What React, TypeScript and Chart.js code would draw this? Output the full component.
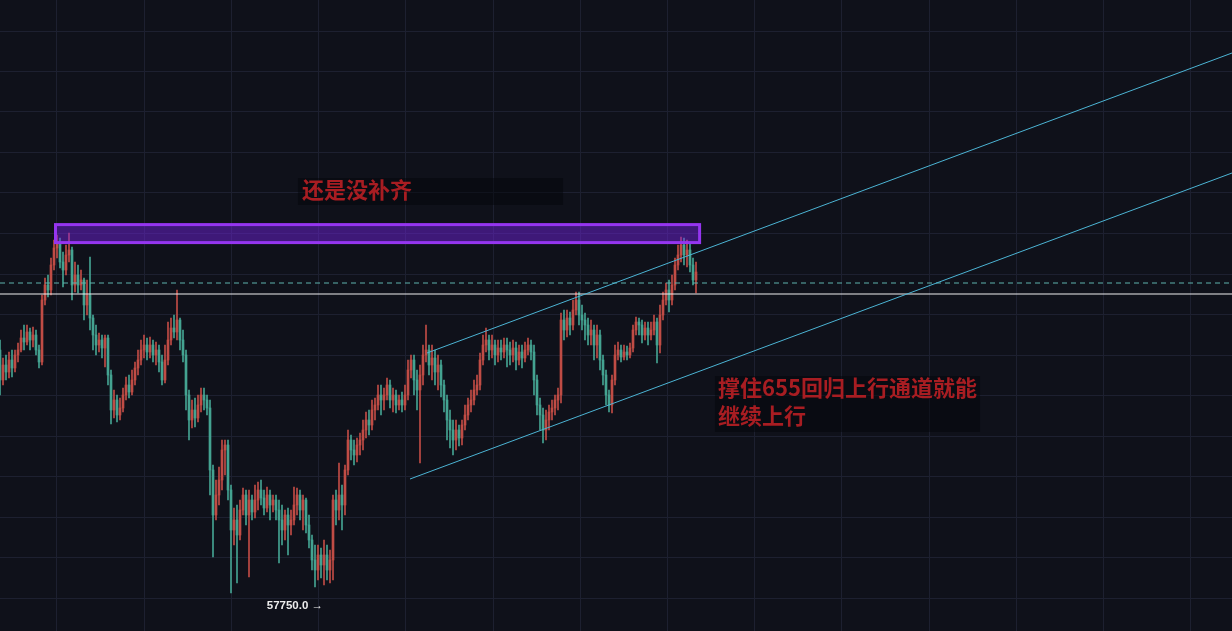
import React, { useEffect, useRef } from "react";
import { Chart, registerables } from "chart.js";

Chart.register(...registerables);

// ---- Candle data (index 0..232) ----
const opens = [
  63625, 62875, 63250, 63075, 63375, 63175, 63500, 63625, 63925, 63825,
  64075, 63875, 64000, 63625, 63325, 64875, 65250, 65125, 65750, 66175,
  66300, 65825, 65625, 66000, 66125, 65250, 65500, 65250, 65375, 64750,
  65000, 64425, 64000, 63750, 63875, 63675, 63925, 63000, 62125, 62375,
  62000, 62175, 62500, 62750, 62575, 62875, 63175, 63375, 63625, 63750,
  63575, 63750, 63500, 63625, 63325, 62875, 63375, 63875, 64175, 64075,
  64375, 63875, 63500, 62500, 61875, 62125, 61925, 62250, 62500, 62375,
  62175, 60625, 59500, 60000, 60375, 61125, 61250, 60125, 59125, 59375,
  59000, 59625, 60000, 59500, 59875, 59575, 59875, 60125, 59925, 59675,
  60000, 59750, 59875, 59625, 59375, 59125, 59500, 59250, 59375, 59750,
  60000, 59625, 59875, 59250, 58875, 58375, 58125, 58500, 58250, 58500,
  58125, 58375, 59875, 59625, 60000, 59750, 60625, 61375, 61125, 61000,
  61250, 61375, 61625, 61875, 61750, 62125, 62250, 62500, 62375, 62500,
  62750, 62375, 62500, 62250, 62375, 62250, 62500, 63125, 63375, 62875,
  62625, 63000, 63500, 63625, 63250, 63425, 63075, 63250, 62750, 62375,
  61875, 61625, 61375, 61625, 61425, 61750, 62000, 62250, 62375, 62625,
  62750, 63375, 63750, 63875, 63625, 63750, 63500, 63675, 63575, 63750,
  63625, 63500, 63675, 63375, 63575, 63425, 63625, 63750, 63575, 62875,
  62250, 62000, 61625, 61875, 62075, 62175, 62375, 62500, 64375, 64125,
  64425, 64250, 64625, 64875, 64500, 64375, 64250, 64000, 64125, 63750,
  64000, 63375, 63000, 62500, 62250, 62875, 63500, 63625, 63450, 63575,
  63500, 63675, 64125, 64325, 64250, 64000, 64175, 64000, 64125, 64325,
  63750, 64500, 64875, 65125, 64875, 65250, 65750, 66000, 66250, 66000,
  66125, 65750, 65375,
];

const highs = [
  63875, 63425, 63500, 63575, 63625, 63625, 63800, 64125, 64250, 64250,
  64175, 64200, 64125, 63750, 65000, 65425, 65500, 65925, 66375, 66500,
  66425, 66075, 66250, 66550, 66200, 65825, 65750, 65625, 65425, 65375,
  65950, 64500, 64250, 64050, 64000, 64000, 64000, 63125, 62625, 62500,
  62425, 62675, 62950, 63000, 63125, 63325, 63625, 63875, 64000, 63925,
  63950, 63875, 63825, 63750, 63500, 63750, 64325, 64425, 64500, 65125,
  64425, 64125, 63625, 62625, 62375, 62425, 62500, 62675, 62675, 62500,
  62375, 60750, 60375, 60700, 61375, 61375, 61375, 60250, 59675, 59750,
  59875, 60175, 60125, 60125, 60000, 60250, 60325, 60375, 60125, 60200,
  60125, 60000, 60000, 59875, 59750, 59625, 59675, 59625, 60200, 60175,
  60125, 60000, 59925, 59500, 59000, 58750, 58750, 58675, 58875, 58750,
  58625, 60000, 60125, 60800, 60250, 60750, 61625, 61500, 61375, 61425,
  61550, 61875, 62075, 62125, 62375, 62425, 62750, 62750, 62675, 62925,
  62875, 62675, 62625, 62500, 62575, 62750, 63375, 63500, 63500, 63125,
  63250, 63750, 64250, 63750, 63750, 63625, 63500, 63375, 62875, 62500,
  62125, 61875, 61875, 61750, 61875, 62250, 62425, 62625, 62875, 63000,
  63550, 64000, 64175, 64000, 64000, 63875, 63875, 63875, 63925, 63925,
  63825, 63875, 63825, 63750, 63750, 63825, 63925, 63875, 63750, 63000,
  62425, 62175, 62125, 62250, 62375, 62500, 62675, 64550, 64625, 64625,
  64575, 64875, 65075, 65075, 64750, 64550, 64425, 64375, 64250, 64250,
  64125, 63500, 63125, 62625, 63000, 63750, 63825, 63750, 63750, 63725,
  63800, 64250, 64450, 64425, 64375, 64325, 64325, 64325, 64500, 64425,
  64750, 65075, 65300, 65375, 65500, 65925, 66250, 66450, 66425, 66375,
  66325, 65925, 65825,
];

const lows = [
  62500, 62750, 62875, 62925, 62950, 63075, 63325, 63575, 63625, 63750,
  63625, 63700, 63500, 63175, 63250, 64750, 64950, 65000, 65625, 65925,
  65675, 65200, 65500, 65825, 64875, 65075, 65050, 65125, 64375, 64500,
  64125, 63625, 63500, 63575, 63425, 63200, 62750, 61775, 61925, 61825,
  61875, 62075, 62375, 62425, 62500, 62750, 63000, 63250, 63425, 63375,
  63425, 63325, 63250, 63075, 62750, 62800, 63250, 63750, 63925, 63875,
  63625, 63325, 62125, 61375, 61675, 61700, 61825, 62075, 62125, 62000,
  60000, 58450, 59375, 59750, 60125, 60500, 59875, 57550, 58750, 57800,
  58875, 59500, 59250, 57950, 59375, 59425, 59625, 59750, 59500, 59575,
  59375, 59575, 59375, 58300, 58750, 58875, 58500, 59000, 59250, 59500,
  59375, 59125, 59050, 58675, 58125, 57700, 57875, 57925, 57750, 57875,
  57800, 57875, 59250, 59375, 59125, 59500, 60500, 60875, 60750, 60825,
  61000, 61125, 61425, 61500, 61625, 61875, 62125, 62000, 62125, 62375,
  62175, 62075, 62050, 62125, 62075, 62125, 62375, 62925, 62500, 62125,
  60800, 62750, 63325, 63000, 62875, 62750, 62625, 62450, 62075, 61375,
  61175, 61000, 61125, 61225, 61250, 61625, 61875, 62075, 62250, 62500,
  62625, 63250, 63575, 63375, 63425, 63250, 63325, 63375, 63425, 63200,
  63250, 63325, 63125, 63250, 63175, 63325, 63500, 63375, 62500, 62000,
  61625, 61300, 61375, 61625, 61875, 62000, 62125, 62300, 63875, 63950,
  64000, 64125, 64500, 64250, 64125, 63875, 63750, 63750, 63375, 63425,
  63125, 62750, 62250, 62075, 62050, 62750, 63375, 63325, 63375, 63375,
  63425, 63575, 64000, 64000, 63800, 63875, 63750, 63875, 64000, 63300,
  63550, 64375, 64750, 64575, 64750, 65125, 65625, 65825, 65750, 65700,
  65575, 65250, 65050,
];

const closes = [
  62875, 63250, 63075, 63375, 63175, 63500, 63625, 63925, 63825, 64075,
  63875, 64000, 63625, 63325, 64875, 65250, 65125, 65750, 66175, 66300,
  65825, 65625, 66000, 66125, 65250, 65500, 65250, 65375, 64750, 65000,
  64425, 64000, 63750, 63875, 63675, 63925, 63000, 62125, 62375, 62000,
  62175, 62500, 62750, 62575, 62875, 63175, 63375, 63625, 63750, 63575,
  63750, 63500, 63625, 63325, 62875, 63375, 63875, 64175, 64075, 64375,
  63875, 63500, 62500, 61875, 62125, 61925, 62250, 62500, 62375, 62175,
  60625, 59500, 60000, 60375, 61125, 61250, 60125, 59125, 59375, 59000,
  59625, 60000, 59500, 59875, 59575, 59875, 60125, 59925, 59675, 60000,
  59750, 59875, 59625, 59375, 59125, 59500, 59250, 59375, 59750, 60000,
  59625, 59875, 59250, 58875, 58375, 58125, 58500, 58250, 58500, 58125,
  58375, 59875, 59625, 60000, 59750, 60625, 61375, 61125, 61000, 61250,
  61375, 61625, 61875, 61750, 62125, 62250, 62500, 62375, 62500, 62750,
  62375, 62500, 62250, 62375, 62250, 62500, 63125, 63375, 62875, 62625,
  63000, 63500, 63625, 63250, 63425, 63075, 63250, 62750, 62375, 61875,
  61625, 61375, 61625, 61425, 61750, 62000, 62250, 62375, 62625, 62750,
  63375, 63750, 63875, 63625, 63750, 63500, 63675, 63575, 63750, 63625,
  63500, 63675, 63375, 63575, 63425, 63625, 63750, 63575, 62875, 62250,
  62000, 61625, 61875, 62075, 62175, 62375, 62500, 64375, 64125, 64425,
  64250, 64625, 64875, 64500, 64375, 64250, 64000, 64125, 63750, 64000,
  63375, 63000, 62500, 62250, 62875, 63500, 63625, 63450, 63575, 63500,
  63675, 64125, 64325, 64250, 64000, 64175, 64000, 64125, 64325, 63750,
  64500, 64875, 65125, 64875, 65250, 65750, 66000, 66250, 66000, 66125,
  65750, 65375, 65575,
];

// ---- Drawings (data coordinates: x = candle index, y = price) ----
const upperChannel = [
  { x: 142.33, y: 63550 },
  { x: 410.67, y: 71050 },
];
const lowerChannel = [
  { x: 136.67, y: 60400 },
  { x: 410.67, y: 68050 },
];
const lastPriceLevel = 65025;
const dashedLevel = 65300;
const resistanceBox = { left: 18.5, right: 233.2, top: 66760, bottom: 66310 };

const note1Lines = ["还是没补齐"];
const note1 = { x: 100.67, y: 67625, boxLeft: 99.33, boxRight: 187.67, boxTop: 67925, boxBottom: 67250 };
const note2Lines = ["撑住655回归上行通道就能", "继续上行"];
const note2 = { x: 239.33, y: 62675, boxLeft: 238.33, boxRight: 326.67, boxTop: 62975, boxBottom: 61575 };

const lowLabel = "57750.0 →";
const lowIndex = 108;
const lowPrice = 57750;

const X_MIN = 0;
const X_MAX = 410.667;
const Y_MIN = 56600;
const Y_MAX = 72375;

const BG = "#0f111a";
const GRID = "#1d2030";
const UP = "#c04c45";
const DOWN = "#44a391";

export default function App() {
  const canvasRef = useRef<HTMLCanvasElement | null>(null);

  useEffect(() => {
    document.body.style.margin = "0";
    document.body.style.background = BG;
    const canvas = canvasRef.current;
    if (!canvas) return;

    const idx = closes.map((_, i) => i);
    const colors = idx.map((i) => (closes[i] >= opens[i] ? UP : DOWN));
    const wickData = idx.map((i) => ({ x: i, y: [lows[i], highs[i]] }));
    const bodyData = idx.map((i) => ({ x: i, y: [opens[i], closes[i]] }));

    const bgPlugin = {
      id: "bgFill",
      beforeDraw(chart: any) {
        const { ctx, width, height } = chart;
        ctx.save();
        ctx.fillStyle = BG;
        ctx.fillRect(0, 0, width, height);
        ctx.restore();
      },
    };

    const annotPlugin = {
      id: "annotations",
      afterDatasetsDraw(chart: any) {
        const { ctx } = chart;
        const xs = chart.scales.x;
        const ys = chart.scales.y;
        ctx.save();
        // resistance box
        const l = xs.getPixelForValue(resistanceBox.left);
        const r = xs.getPixelForValue(resistanceBox.right);
        const t = ys.getPixelForValue(resistanceBox.top);
        const b = ys.getPixelForValue(resistanceBox.bottom);
        ctx.fillStyle = "rgba(120,35,235,0.45)";
        ctx.fillRect(l, t, r - l, b - t);
        ctx.strokeStyle = "#9535f0";
        ctx.lineWidth = 3;
        ctx.strokeRect(l, t, r - l, b - t);

        // notes
        const drawNote = (n: any, lines: string[]) => {
          const bl = xs.getPixelForValue(n.boxLeft);
          const br = xs.getPixelForValue(n.boxRight);
          const bt = ys.getPixelForValue(n.boxTop);
          const bb = ys.getPixelForValue(n.boxBottom);
          ctx.fillStyle = "rgba(4,5,9,0.5)";
          ctx.fillRect(bl, bt, br - bl, bb - bt);
          ctx.fillStyle = "#a81d22";
          ctx.font = 'bold 22px "Noto Sans CJK SC", "Noto Sans", sans-serif';
          ctx.textBaseline = "middle";
          ctx.textAlign = "left";
          const tx = xs.getPixelForValue(n.x);
          const ty = ys.getPixelForValue(n.y);
          lines.forEach((s, k) => ctx.fillText(s, tx, ty + k * 28));
        };
        drawNote(note1, note1Lines);
        drawNote(note2, note2Lines);

        // low label
        ctx.fillStyle = "#ececec";
        ctx.font = 'bold 11.5px "Liberation Sans", Arial, sans-serif';
        ctx.textAlign = "right";
        ctx.textBaseline = "middle";
        ctx.fillText(lowLabel, xs.getPixelForValue(lowIndex) - 1, ys.getPixelForValue(lowPrice) + 21);
        ctx.restore();
      },
    };

    const chart = new Chart(canvas, {
      type: "bar",
      data: {
        datasets: [
          {
            type: "line",
            data: upperChannel,
            borderColor: "#4cb4d4",
            borderWidth: 1,
            pointRadius: 0,
            fill: false,
            order: 0,
          } as any,
          {
            type: "line",
            data: lowerChannel,
            borderColor: "#4cb4d4",
            borderWidth: 1,
            pointRadius: 0,
            fill: false,
            order: 0,
          } as any,
          {
            type: "line",
            data: [
              { x: X_MIN, y: lastPriceLevel },
              { x: X_MAX, y: lastPriceLevel },
            ],
            borderColor: "#f0f0f0",
            borderWidth: 1,
            pointRadius: 0,
            fill: false,
            order: 0,
          } as any,
          {
            type: "line",
            data: [
              { x: X_MIN, y: dashedLevel },
              { x: X_MAX, y: dashedLevel },
            ],
            borderColor: "#5fb3ad",
            borderWidth: 1,
            borderDash: [5, 4],
            pointRadius: 0,
            fill: false,
            order: 0,
          } as any,
          {
            type: "bar",
            data: bodyData,
            backgroundColor: colors,
            barThickness: 2,
            minBarLength: 1,
            grouped: false,
            order: 1,
          } as any,
          {
            type: "bar",
            data: wickData,
            backgroundColor: colors,
            barThickness: 1,
            grouped: false,
            order: 2,
          } as any,
        ],
      },
      options: {
        animation: false,
        responsive: true,
        maintainAspectRatio: false,
        events: [],
        layout: { padding: 0 },
        plugins: {
          legend: { display: false },
          tooltip: { enabled: false },
        },
        scales: {
          x: {
            type: "linear",
            min: X_MIN,
            max: X_MAX,
            offset: false,
            ticks: { display: false },
            border: { display: false },
            grid: { color: GRID, drawTicks: false, lineWidth: 1, offset: false },
            afterBuildTicks: (scale: any) => {
              const t: any[] = [];
              for (let v = 19; v <= X_MAX; v += 29.067) t.push({ value: v });
              scale.ticks = t;
            },
          },
          y: {
            type: "linear",
            min: Y_MIN,
            max: Y_MAX,
            ticks: { display: false },
            border: { display: false },
            grid: { color: GRID, drawTicks: false, lineWidth: 1 },
            afterBuildTicks: (scale: any) => {
              const t: any[] = [];
              for (let v = 71600 + 1012.5; v >= Y_MIN; v -= 1012.5) t.push({ value: v });
              scale.ticks = t;
            },
          },
        },
      } as any,
      plugins: [bgPlugin, annotPlugin],
    });

    return () => chart.destroy();
  }, []);

  return (
    <div style={{ width: 1232, height: 631, position: "relative" }}>
      <canvas ref={canvasRef} />
    </div>
  );
}
